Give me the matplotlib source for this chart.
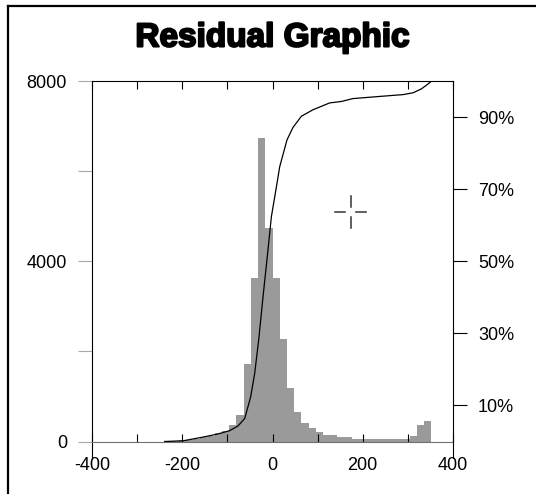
import numpy as np
import matplotlib.pyplot as plt
from matplotlib.lines import Line2D
import matplotlib.patheffects as pe

plt.rcParams['font.family'] = ['Liberation Sans', 'DejaVu Sans']

# residual histogram, bins of 16 starting at -240
bin_width = 16
bin_left = np.arange(-240, 352, bin_width)
counts = [8, 15, 25, 40, 60, 90, 130, 180,
          240, 367, 580,
          1715, 3640, 6750, 4750, 3626, 2278, 1182,
          649, 404, 293, 218,
          144, 144, 93, 93,
          55, 50, 48, 45, 45, 45, 48, 52,
          122, 367, 462]

# cumulative curve (percent)
cdf_x = [-239, -198, -161, -124, -95, -76.5, -61.6, -54.3, -48.4, -39.5,
         -30.6, -21, -10, -2.5, 10, 16, 32, 45.4, 64, 89.7,
         126.7, 152.6, 178.3, 237.5, 289, 311.3, 330, 341, 352]
cdf_pct = [0, 0.2, 1.05, 2.0, 3.0, 4.3, 6.4, 9.7, 12.4, 18.9,
           28.2, 40.2, 53.2, 62.4, 71.7, 76.3, 83.7, 87.2, 90.3, 92.1,
           94.0, 94.4, 95.2, 95.8, 96.3, 96.8, 97.9, 98.9, 100]

x_ticks = [-400, -300, -200, -100, 0, 100, 200, 300, 400]
x_labels = ['-400', '', '-200', '', '0', '', '200', '', '400']
y_ticks = [0, 2000, 4000, 6000, 8000]
y_labels = ['0', '', '4000', '', '8000']
pct_ticks = [10, 30, 50, 70, 90]
pct_labels = ['10%', '30%', '50%', '70%', '90%']

# cursor left on the plot
cursor_x = 173
cursor_y = 5100

W, H = 536, 494
fig = plt.figure(figsize=(W / 100, H / 100), dpi=100)
ax = fig.add_axes([92 / W, 1 - 441.5 / H, 361 / W, 360.2 / H])

ax.bar(bin_left, counts, width=bin_width, align='edge', color='#9a9a9a',
       linewidth=0, zorder=1)
ax.set_xlim(-400, 400)
ax.set_ylim(0, 8000)
ax.set_xticks(x_ticks)
ax.set_xticklabels(x_labels)
ax.set_yticks(y_ticks)
ax.set_yticklabels(y_labels)
ax.tick_params(axis='x', direction='in', top=True, length=6, width=0.8,
               color='black', labelsize=13, pad=11)
ax.tick_params(axis='y', direction='out', length=10, width=0.8,
               color='#a8a8a8', labelsize=13, pad=8)
for s in ['left', 'top']:
    ax.spines[s].set_linewidth(0.8)
ax.spines['bottom'].set_color('#707070')
ax.spines['bottom'].set_linewidth(0.8)
ax.spines['right'].set_visible(False)

# spines run a little below the x axis
for xa in [0, 1]:
    ax.plot([xa, xa], [0, -0.047], transform=ax.transAxes, clip_on=False,
            color='black', lw=0.8)

# crosshair
gx, ax_len = 12, 35
gy, ay_len = 110, 350
ck = dict(color='#333333', lw=1.1)
ax.plot([cursor_x - ax_len, cursor_x - gx], [cursor_y, cursor_y], **ck)
ax.plot([cursor_x + gx, cursor_x + ax_len], [cursor_y, cursor_y], **ck)
ax.plot([cursor_x, cursor_x], [cursor_y + gy, cursor_y + ay_len], **ck)
ax.plot([cursor_x, cursor_x], [cursor_y - gy, cursor_y - ay_len], **ck)

ax2 = ax.twinx()
ax2.set_ylim(0, 100)
ax2.set_yticks(pct_ticks)
ax2.set_yticklabels(pct_labels)
ax2.tick_params(axis='y', direction='out', length=10, width=0.8,
                color='black', labelsize=13, pad=8)
for s in ['left', 'top', 'bottom']:
    ax2.spines[s].set_visible(False)
ax2.spines['right'].set_linewidth(0.8)
ax2.plot(cdf_x, cdf_pct, color='black', lw=0.9)

fig.text(273 / W, 1 - 38 / H, 'Residual Graphic', ha='center', va='center',
         fontsize=24, fontweight='bold',
         path_effects=[pe.withStroke(linewidth=1.5, foreground='black')])

# outer frame (left and top edges visible)
fig.add_artist(Line2D([7.5 / W, 7.5 / W], [0, 1 - 6.5 / H], color='black', lw=1.6))
fig.add_artist(Line2D([7.5 / W, 1], [1 - 6.5 / H, 1 - 6.5 / H], color='black', lw=1.6))

fig.savefig('out.png', dpi=100)
